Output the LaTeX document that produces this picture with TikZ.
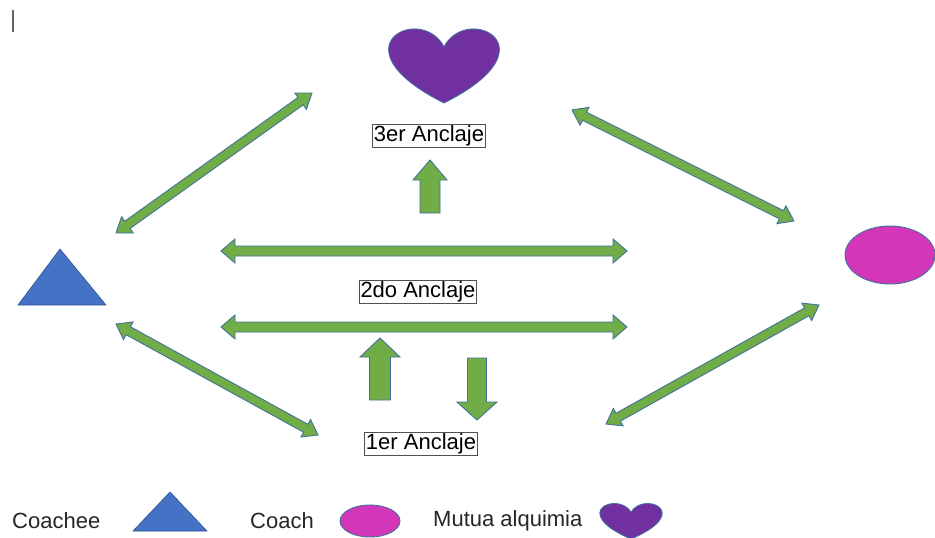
\documentclass[tikz,border=0pt]{standalone}
\usepackage{fontspec}
\setmainfont{Liberation Sans}
\usetikzlibrary{calc}
\definecolor{agreen}{HTML}{70AD47}
\definecolor{aline}{HTML}{41719C}
\definecolor{tblue}{HTML}{4472C4}
\definecolor{tline}{HTML}{2F528F}
\definecolor{cmag}{HTML}{D436B9}
\definecolor{hpurp}{HTML}{7030A0}
\definecolor{boxline}{HTML}{505050}
\tikzset{
  blockarrow/.style={fill=agreen, draw=aline, line width=0.9pt, line join=miter},
  anchorbox/.style={draw=boxline, line width=0.8pt, inner sep=1.2pt, font=\fontsize{22}{26}\selectfont},
  legendtext/.style={font=\fontsize{22}{26}\selectfont, text=black!85, anchor=west, inner sep=0pt},
  trishape/.style={fill=tblue, draw=tline, line width=0.6pt},
  ellshape/.style={fill=cmag, draw=aline, line width=0.9pt},
  heartshape/.style={fill=hpurp, draw=aline, line width=0.8pt},
  pics/heart/.style={code={\draw[heartshape] (0,0.25) .. controls (0.208,-0.333) and (1.021,0.25) .. (0,1) .. controls (-1.021,0.25) and (-0.208,-0.333) .. (0,0.25) -- cycle;}}
}
% double block arrow: #1 end A, #2 end B, #3 shaft half width, #4 head half width, #5 head length
\newcommand\dblarrow[5]{%
  \draw[blockarrow] (#1)
    -- ($(#1)!#5!(#2)!#4!90:(#2)$)
    -- ($(#1)!#5!(#2)!#3!90:(#2)$)
    -- ($(#2)!#5!(#1)!#3!-90:(#1)$)
    -- ($(#2)!#5!(#1)!#4!-90:(#1)$)
    -- (#2)
    -- ($(#2)!#5!(#1)!#4!90:(#1)$)
    -- ($(#2)!#5!(#1)!#3!90:(#1)$)
    -- ($(#1)!#5!(#2)!#3!-90:(#2)$)
    -- ($(#1)!#5!(#2)!#4!-90:(#2)$)
    -- cycle;}
% single block arrow: #1 tail, #2 tip
\newcommand\onearrow[5]{%
  \draw[blockarrow] ($(#1)!#3!90:(#2)$)
    -- ($(#2)!#5!(#1)!#3!-90:(#1)$)
    -- ($(#2)!#5!(#1)!#4!-90:(#1)$)
    -- (#2)
    -- ($(#2)!#5!(#1)!#4!90:(#1)$)
    -- ($(#2)!#5!(#1)!#3!90:(#1)$)
    -- ($(#1)!#3!-90:(#2)$)
    -- cycle;}
\begin{document}
\begin{tikzpicture}[x=1pt, y=-1pt]
\useasboundingbox[fill=white] (0,0) rectangle (935,538);
% text cursor mark
\draw[gray!80!black, line width=1.4pt] (13,10) -- (13,32);

% main shapes
\draw[trishape] (60,249) -- (106,305) -- (18,305) -- cycle;
\coordinate (coachee) at (60,280);
\draw[ellshape] (890,255) ellipse [x radius=45, y radius=29];
\coordinate (coach) at (890,255);
\pic[xscale=110, yscale=75] at (444,28) {heart};

% labels
\node[anchorbox] (a3) at (429,136) {3er Anclaje};
\node[anchorbox] (a2) at (418,292) {2do Anclaje};
\node[anchorbox] (a1) at (421,444) {1er Anclaje};

% arrow end points
\coordinate (tlA) at (116,233); \coordinate (tlB) at (312,93);
\coordinate (trA) at (572,110); \coordinate (trB) at (794,221);
\coordinate (blA) at (116,324); \coordinate (blB) at (318,435);
\coordinate (brA) at (606,424); \coordinate (brB) at (819,305);
\coordinate (h1A) at (221,251); \coordinate (h1B) at (627,251);
\coordinate (h2A) at (221,327); \coordinate (h2B) at (627,327);
\coordinate (u3A) at (430,213); \coordinate (u3B) at (430,160);
\coordinate (u1A) at (380,400); \coordinate (u1B) at (380,338);
\coordinate (d1A) at (477,358); \coordinate (d1B) at (477,420);

\dblarrow{tlA}{tlB}{4.5pt}{10pt}{14pt}
\dblarrow{trA}{trB}{4.5pt}{10pt}{14pt}
\dblarrow{blA}{blB}{4.5pt}{10pt}{14pt}
\dblarrow{brA}{brB}{4.5pt}{10pt}{14pt}
\dblarrow{h1A}{h1B}{5pt}{12pt}{14pt}
\dblarrow{h2A}{h2B}{5pt}{12pt}{14pt}
\onearrow{u3A}{u3B}{10pt}{17pt}{20pt}
\onearrow{u1A}{u1B}{10.5pt}{20pt}{19pt}
\onearrow{d1A}{d1B}{9.5pt}{20pt}{18pt}

% legend
\node[legendtext] (lg1) at (12,521) {Coachee};
\draw[trishape] (170,492) -- (207,531) -- (133,531) -- cycle;
\node[legendtext] (lg2) at (250,521) {Coach};
\draw[ellshape] (370,521) ellipse [x radius=30, y radius=16];
\node[legendtext] (lg3) at (433,521) {Mutua alquimia};
\pic[xscale=62, yscale=36] at (631,503) {heart};
\end{tikzpicture}
\end{document}
